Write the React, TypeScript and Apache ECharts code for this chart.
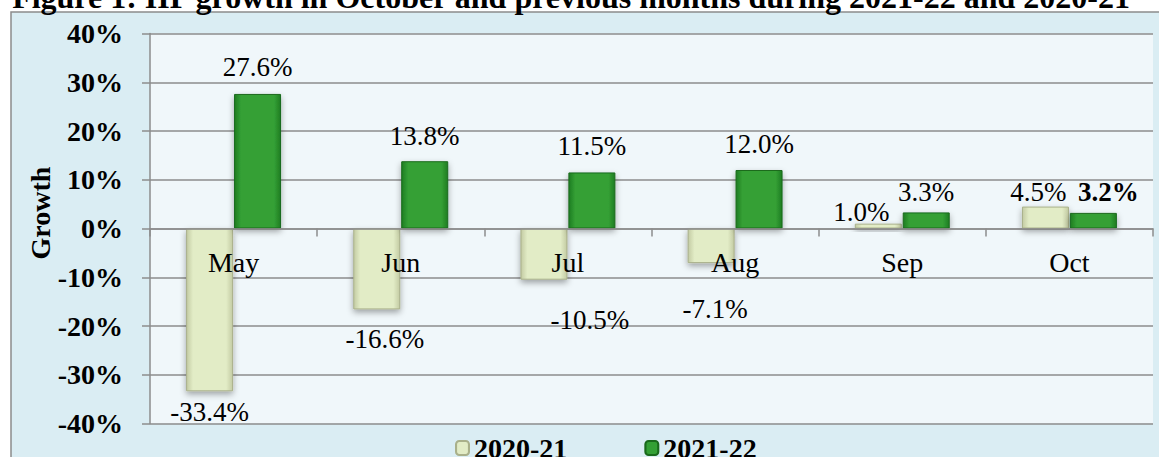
import React, { useEffect, useRef } from "react";
import * as echarts from "echarts";

const titleText = "Figure 1: IIP growth in October and previous months during 2021-22 and 2020-21";
const months = ["May", "Jun", "Jul", "Aug", "Sep", "Oct"];
const seriesNames = ["2020-21", "2021-22"];
const growth2020 = [-33.4, -16.6, -10.5, -7.1, 1.0, 4.5];
const growth2021 = [27.6, 13.8, 11.5, 12.0, 3.3, 3.2];
const yTicks = { min: -40, max: 40, interval: 10 };
const yAxisName = "Growth";

// label nudges [dx, dy] (the original labels were hand-placed)
const shift2020: [number, number][] = [[0, 0], [8, 9], [46, 20], [4, 25], [-17, 15], [-7, 12]];
const shift2021: [number, number][] = [[0, 0], [0, 1], [0, 0], [0, 0], [0, 6], [15, 6]];
const boldLabel2021 = [false, false, false, false, false, true];

const FONT = "'Liberation Serif', 'Times New Roman', serif";

function sideGrad(edge: string, main: string) {
  return new echarts.graphic.LinearGradient(0, 0, 1, 0, [
    { offset: 0, color: edge },
    { offset: 0.14, color: main },
    { offset: 0.86, color: main },
    { offset: 1, color: edge },
  ]);
}

export default function App() {
  const ref = useRef<HTMLDivElement>(null);
  useEffect(() => {
    if (!ref.current) return;
    const chart = echarts.init(ref.current, undefined, { renderer: "svg" });
    const mk = (vals: number[], shifts: [number, number][], bold?: boolean[]) =>
      vals.map((v, i) => ({
        value: v,
        label: {
          position: v >= 0 ? "top" : "bottom",
          distance: v >= 0 ? 13 : 7,
          offset: shifts[i],
          fontWeight: bold && bold[i] ? "bold" : "normal",
        },
      }));
    const labelBase = {
      show: true,
      fontFamily: FONT,
      fontSize: 27,
      color: "#000",
      formatter: (p: any) => p.value.toFixed(1) + "%",
    };
    chart.setOption({
      animation: false,
      backgroundColor: "#ffffff",
      graphic: [
        {
          type: "rect",
          z: -100,
          shape: { x: 11, y: 12, width: 1160, height: 460 },
          style: { fill: "#daedf3", stroke: "#8c8c8c", lineWidth: 1.5 },
        },
        {
          type: "text",
          x: 571,
          y: 13,
          style: {
            text: titleText,
            font: `bold 32px ${FONT}`,
            fill: "#000",
            textAlign: "center",
            textVerticalAlign: "bottom",
          },
        },
        {
          type: "text",
          x: 40,
          y: 213,
          rotation: Math.PI / 2,
          style: {
            text: yAxisName,
            font: `bold 28px ${FONT}`,
            fill: "#000",
            textAlign: "center",
            textVerticalAlign: "middle",
          },
        },
      ],
      grid: {
        left: 150,
        right: 6,
        top: 33.5,
        bottom: 33.5,
        show: true,
        backgroundColor: "#f0f7fa",
        borderWidth: 0,
      },
      legend: {
        left: 450,
        top: 429,
        itemWidth: 13,
        itemHeight: 14,
        itemGap: 77,
        textStyle: {
          fontFamily: FONT,
          fontSize: 28,
          lineHeight: 22,
          fontWeight: "bold",
          color: "#000",
        },
        data: seriesNames,
      },
      xAxis: {
        type: "category",
        data: months,
        z: 10,
        position: "bottom",
        offset: -195,
        axisLine: { onZero: false, lineStyle: { color: "#8c8c8c", width: 1.5 } },
        axisTick: { show: true, length: 8, lineStyle: { color: "#8c8c8c", width: 1.5 } },
        axisLabel: { fontFamily: FONT, fontSize: 28, color: "#000", margin: 20 },
      },
      yAxis: {
        type: "value",
        min: yTicks.min,
        max: yTicks.max,
        interval: yTicks.interval,
        axisLine: { show: true, lineStyle: { color: "#8c8c8c", width: 1.5 } },
        axisTick: { show: true, length: 8, lineStyle: { color: "#8c8c8c", width: 1.5 } },
        splitLine: { lineStyle: { color: "#8c8c8c", width: 1.5 } },
        axisLabel: {
          fontFamily: FONT,
          fontSize: 28,
          fontWeight: "bold",
          color: "#000",
          margin: 27,
          formatter: "{value}%",
        },
      },
      series: [
        {
          name: seriesNames[0],
          type: "bar",
          barWidth: 47,
          barGap: "2%",
          itemStyle: {
            color: sideGrad("#c3cba3", "#e2ecc6"),
            borderColor: "#a9b08a",
            borderWidth: 1,
            shadowColor: "rgba(0,0,0,0.35)",
            shadowBlur: 6,
            shadowOffsetY: 3,
          },
          label: labelBase,
          data: mk(growth2020, shift2020),
        },
        {
          name: seriesNames[1],
          type: "bar",
          barWidth: 47,
          barGap: "2%",
          itemStyle: {
            color: sideGrad("#1f7d22", "#34a035"),
            borderColor: "#1a6a1c",
            borderWidth: 1,
            shadowColor: "rgba(0,0,0,0.35)",
            shadowBlur: 6,
            shadowOffsetY: 3,
          },
          label: labelBase,
          data: mk(growth2021, shift2021, boldLabel2021),
        },
      ],
    });
    return () => chart.dispose();
  }, []);
  return (
    <div
      ref={ref}
      style={{ position: "absolute", left: 0, top: 0, width: 1159, height: 457 }}
    />
  );
}
